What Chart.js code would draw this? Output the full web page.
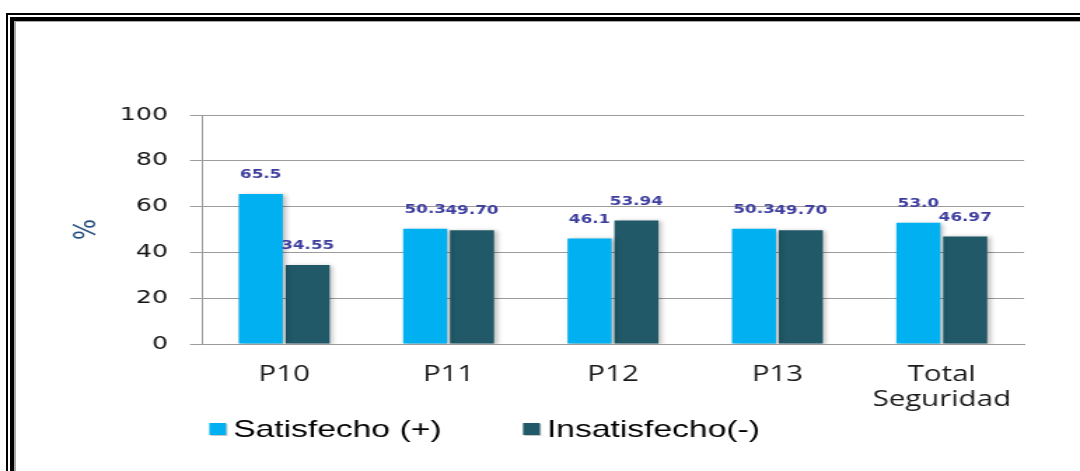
<!DOCTYPE html>
<html>
<head>
<meta charset="utf-8">
<script src="https://cdn.jsdelivr.net/npm/chart.js@4/dist/chart.umd.min.js"></script>
<style>
  body { margin: 0; background: #fff; overflow: hidden; }
  /* el grafico original se ve estirado a lo ancho, por eso el scaleX */
  #wrap { position: absolute; left: 0; top: 0; width: 771px; height: 471px; transform: scaleX(1.4008); transform-origin: 0 0; }
  .marco { position: absolute; width: 2000px; height: 2000px; }
  #m1 { left: 6px; top: 13px; border-left: 2px solid #000; border-top: 2px solid #000; }
  #m2 { left: 10px; top: 17px; border-left: 4px solid #000; border-top: 4px solid #000; }
  #m3 { left: 14px; top: 21px; border-left: 2px solid #a8a8a8; border-top: 1px solid #a8a8a8; }
</style>
</head>
<body>
<div id="wrap"><canvas id="grafico"></canvas></div>
<div class="marco" id="m1"></div>
<div class="marco" id="m2"></div>
<div class="marco" id="m3"></div>
<script>
// datos del grafico
const categorias = ['P10', 'P11', 'P12', 'P13', ['Total', 'Seguridad']];
const satisfecho = [65.5, 50.3, 46.1, 50.3, 53.0];
const insatisfecho = [34.55, 49.70, 53.94, 49.70, 46.97];
const nombresSeries = ['Satisfecho (+)', 'Insatisfecho(-)'];
const decimales = [1, 2];

const colores = ['#00B0F0', '#215968'];

/**
 * sombra de las barras y etiquetas de valor encima de cada barra
 */
const etiquetasPlugin = {
    id: 'etiquetas',
    beforeDatasetsDraw(chart) {
        const ctx = chart.ctx;
        ctx.save();
        ctx.shadowColor = 'rgba(0, 0, 0, 0.28)';
        ctx.shadowBlur = 4;
        ctx.shadowOffsetX = 2;
        ctx.shadowOffsetY = 1;
    },
    afterDatasetsDraw(chart) {
        const ctx = chart.ctx;
        ctx.restore();
        ctx.save();
        ctx.font = 'bold 12px "DejaVu Sans"';
        ctx.fillStyle = '#3d3d9e';
        ctx.textAlign = 'center';
        ctx.textBaseline = 'middle';
        chart.data.datasets.forEach((ds, i) => {
            chart.getDatasetMeta(i).data.forEach((bar, j) => {
                ctx.fillText(ds.data[j].toFixed(decimales[i]), bar.x, bar.y - 19);
            });
        });
        ctx.restore();
    }
};

/**
 * leyenda abajo a la izquierda, como en el original
 */
const leyendaPlugin = {
    id: 'leyenda',
    afterDraw(chart) {
        const ctx = chart.ctx;
        const posX = [149.4, 373.4];
        ctx.save();
        ctx.font = '24px "Liberation Sans"';
        ctx.textBaseline = 'alphabetic';
        chart.data.datasets.forEach((ds, i) => {
            const x = posX[i];
            ctx.fillStyle = '#c8c8c8';
            ctx.fillRect(x + 1, 424, 12, 12);
            ctx.fillStyle = ds.backgroundColor;
            ctx.fillRect(x, 423, 12, 12);
            ctx.fillStyle = '#000';
            ctx.fillText(ds.label, x + 17, 436.5);
        });
        ctx.restore();
    }
};

const data = {
    labels: categorias,
    datasets: [{
        label: nombresSeries[0],
        data: satisfecho,
        backgroundColor: colores[0]
    }, {
        label: nombresSeries[1],
        data: insatisfecho,
        backgroundColor: colores[1]
    }]
};

const config = {
    type: 'bar',
    data: data,
    options: {
        responsive: true,
        maintainAspectRatio: false,
        animation: false,
        events: [],
        categoryPercentage: 0.57,
        barPercentage: 0.94,
        layout: { padding: { left: 49, right: 40, top: 115, bottom: 0 } },
        plugins: {
            legend: { display: false },
            tooltip: { enabled: false }
        },
        scales: {
            x: {
                grid: { drawOnChartArea: false, drawTicks: false, color: '#999' },
                border: { color: '#999' },
                ticks: {
                    font: { family: 'Open Sans', size: 21 },
                    color: '#1a1a1a',
                    padding: 18,
                    maxRotation: 0
                },
                afterFit(scale) { scale.height = 127; }
            },
            y: {
                min: 0,
                max: 100,
                ticks: {
                    stepSize: 20,
                    padding: 15.7,
                    font: { family: 'DejaVu Sans', size: 18 },
                    color: '#111'
                },
                grid: { color: '#9c9c9c', tickColor: '#9c9c9c', tickLength: 8.6 },
                border: { color: '#9c9c9c' },
                title: {
                    display: true,
                    text: '%',
                    color: '#254E7E',
                    font: { family: 'DejaVu Sans', size: 22 },
                    padding: 0
                },
                afterFit(scale) { scale.width = 95.2; }
            }
        }
    },
    plugins: [etiquetasPlugin, leyendaPlugin]
};

new Chart(document.getElementById('grafico'), config);
</script>
</body>
</html>
